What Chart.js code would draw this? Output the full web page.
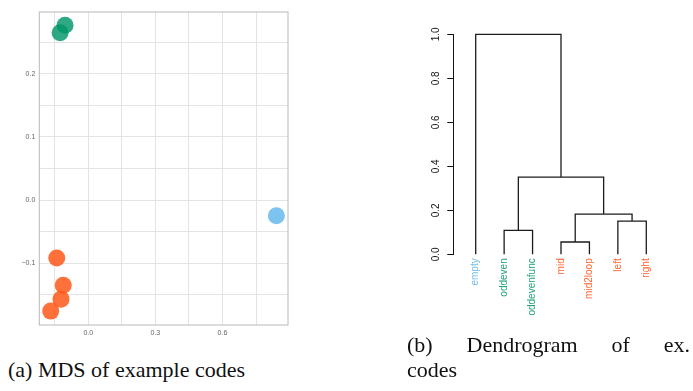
<!DOCTYPE html>
<html>
<head>
<meta charset="utf-8">
<script src="https://cdn.jsdelivr.net/npm/chart.js@4/dist/chart.umd.min.js"></script>
<style>
  html, body { margin: 0; padding: 0; background: #fff; }
  body { width: 693px; height: 391px; position: relative; overflow: hidden; }
  #mds { position: absolute; left: 0; top: 0; }
  #dendro { position: absolute; left: 400px; top: 0; }
  .cap { position: absolute; font-family: "Liberation Serif", "DejaVu Serif", serif; font-size: 22px; line-height: 22px; color: #111; white-space: nowrap; }
</style>
</head>
<body>
<canvas id="mds" width="300" height="345"></canvas>
<canvas id="dendro" width="293" height="335"></canvas>
<div class="cap" style="left:8px; top:358.6px;">(a) MDS of example codes</div>
<div class="cap" style="left:407px; top:333.6px; width:283px; text-align:justify; text-align-last:justify; white-space:normal;">(b) Dendrogram of ex.</div>
<div class="cap" style="left:407px; top:358.6px;">codes</div>
<script>
// ===============================
// Datos: MDS (panel a)
// ===============================
const greenX = [-0.104, -0.126];
const greenY = [0.277, 0.265];
const orangeX = [-0.141, -0.112, -0.122, -0.168];
const orangeY = [-0.092, -0.135, -0.157, -0.176];
const blueX = [0.841];
const blueY = [-0.025];

const mdsXTicks = [-0.15, 0, 0.15, 0.3, 0.45, 0.6, 0.75];
const mdsXTickLabels = ['', '0.0', '', '0.3', '', '0.6', ''];
const mdsYTicks = [-0.15, -0.1, -0.05, 0, 0.05, 0.1, 0.15, 0.2, 0.25];
const mdsYTickLabels = ['', '\u22120.1', '', '0.0', '', '0.1', '', '0.2', ''];

// ===============================
// Datos: dendrograma (panel b)
// ===============================
const leafLabels = ['empty', 'oddeven', 'oddevenfunc', 'mid', 'mid2loop', 'left', 'right'];
const leafColors = ['#74c0ea', '#1fa37a', '#1fa37a', '#ff6633', '#ff6633', '#ff6633', '#ff6633'];
// estilo hclust: negativo = hoja, positivo = fusión previa
const mergeLeft = [-4, -2, -6, 1, 2, -1];
const mergeRight = [-5, -3, -7, 3, 4, 5];
const mergeHeight = [0.056, 0.109, 0.151, 0.183, 0.351, 1.0];
const dendroYTicks = [0, 0.2, 0.4, 0.6, 0.8, 1.0];

const pts = (xs, ys) => xs.map((x, i) => ({ x: x, y: ys[i] }));

// marco alrededor del área del gráfico
const framePlugin = {
    id: 'frame',
    afterDraw(chart) {
        const a = chart.chartArea;
        const ctx = chart.ctx;
        ctx.save();
        ctx.strokeStyle = '#b8b8b8';
        ctx.lineWidth = 1;
        ctx.strokeRect(a.left, a.top, a.right - a.left, a.bottom - a.top);
        ctx.restore();
    }
};

new Chart(document.getElementById('mds'), {
    type: 'scatter',
    data: {
        datasets: [
            { data: pts(greenX, greenY), backgroundColor: 'rgba(0,150,105,0.82)' },
            { data: pts(orangeX, orangeY), backgroundColor: 'rgba(255,88,25,0.85)' },
            { data: pts(blueX, blueY), backgroundColor: 'rgba(95,182,235,0.82)' }
        ]
    },
    options: {
        responsive: false,
        animation: false,
        layout: { padding: { top: 12, right: 12, left: 0, bottom: 0 } },
        elements: { point: { radius: 8.5, borderWidth: 0, hoverRadius: 8.5 } },
        plugins: { legend: { display: false }, tooltip: { enabled: false } },
        scales: {
            x: {
                type: 'linear', min: -0.219, max: 0.893,
                afterBuildTicks: axis => { axis.ticks = mdsXTicks.map(v => ({ value: v })); },
                afterFit: axis => { axis.height = 20; },
                grid: { color: '#e4e4e4', lineWidth: 1, drawTicks: false },
                border: { display: false },
                ticks: {
                    padding: 3.5, color: '#666',
                    font: { family: 'Liberation Sans', size: 7 },
                    callback: (v, i) => mdsXTickLabels[i]
                }
            },
            y: {
                type: 'linear', min: -0.198, max: 0.298,
                afterBuildTicks: axis => { axis.ticks = mdsYTicks.map(v => ({ value: v })); },
                afterFit: axis => { axis.width = 39.3; },
                grid: { color: '#e4e4e4', lineWidth: 1, drawTicks: false },
                border: { display: false },
                ticks: {
                    padding: 4, color: '#666',
                    font: { family: 'Liberation Sans', size: 7 },
                    callback: (v, i) => mdsYTickLabels[i]
                }
            }
        }
    },
    plugins: [framePlugin]
});

// ===============================
// Construir segmentos del dendrograma
// ===============================
function nodePos(id) {
    if (id < 0) return { x: -id, y: 0 };
    return nodes[id - 1];
}
const nodes = [];
const branchSets = [];
for (let i = 0; i < mergeHeight.length; i++) {
    const l = nodePos(mergeLeft[i]);
    const r = nodePos(mergeRight[i]);
    const h = mergeHeight[i];
    nodes.push({ x: (l.x + r.x) / 2, y: h });
    branchSets.push({
        data: [{ x: l.x, y: l.y }, { x: l.x, y: h }, { x: r.x, y: h }, { x: r.x, y: r.y }],
        showLine: true,
        borderColor: '#1c1c1c',
        borderWidth: 1.3,
        pointRadius: 0,
        tension: 0,
        clip: false
    });
}

new Chart(document.getElementById('dendro'), {
    type: 'scatter',
    data: { datasets: branchSets },
    options: {
        responsive: false,
        animation: false,
        layout: { padding: { top: 34.3, right: 32.5, left: 0, bottom: 0 } },
        plugins: { legend: { display: false }, tooltip: { enabled: false } },
        scales: {
            x: {
                type: 'linear', min: 0.212, max: 7.5,
                afterBuildTicks: axis => { axis.ticks = leafLabels.map((_, i) => ({ value: i + 1 })); },
                afterFit: axis => { axis.height = 80.7; },
                grid: { display: false, drawTicks: false },
                border: { display: false },
                ticks: {
                    autoSkip: false, minRotation: 90, maxRotation: 90, padding: 4,
                    font: { family: 'Liberation Sans', size: 10 },
                    color: ctx => leafColors[ctx.index],
                    callback: (v, i) => leafLabels[i]
                }
            },
            y: {
                type: 'linear', min: 0, max: 1,
                afterBuildTicks: axis => { axis.ticks = dendroYTicks.map(v => ({ value: v })); },
                afterFit: axis => { axis.width = 53.3; },
                grid: { drawOnChartArea: false, drawTicks: true, tickLength: 6, color: '#111', lineWidth: 1 },
                border: { display: true, color: '#111', width: 1 },
                ticks: {
                    minRotation: 90, maxRotation: 90, crossAlign: 'center', padding: 4,
                    color: '#111',
                    font: { family: 'Liberation Sans', size: 10 },
                    callback: v => v.toFixed(1)
                }
            }
        }
    }
});
</script>
</body>
</html>
